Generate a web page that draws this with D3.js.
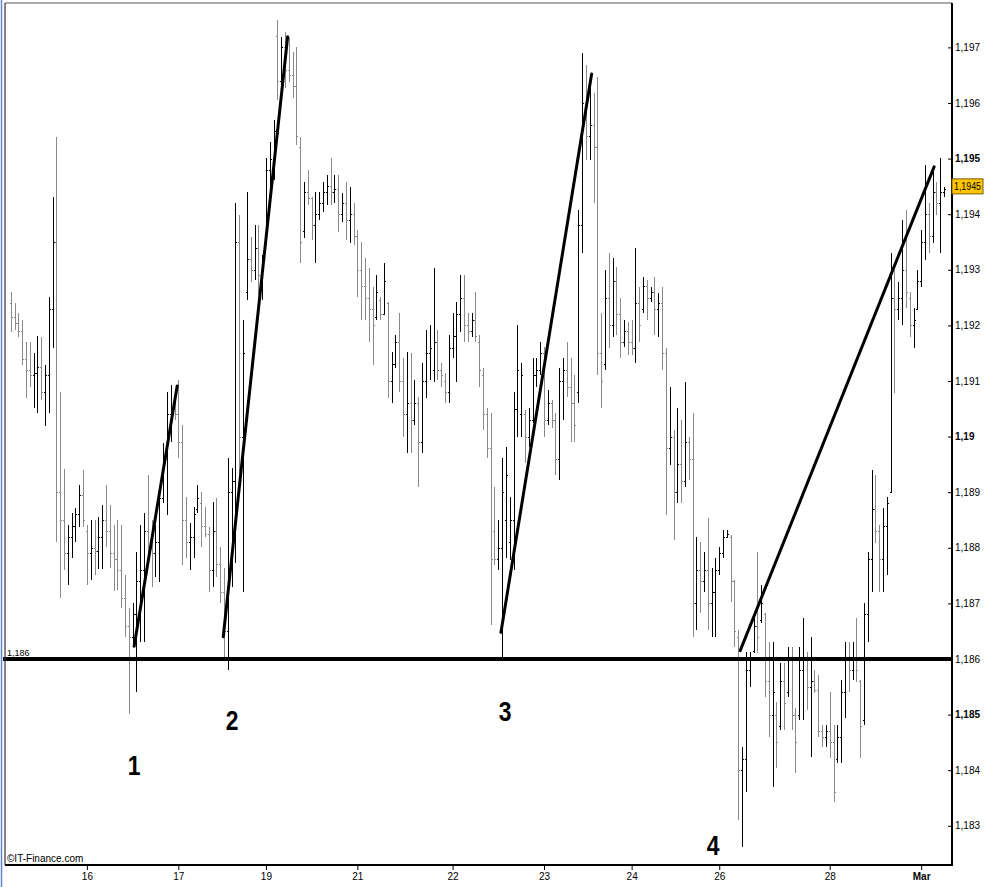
<!DOCTYPE html>
<html><head><meta charset="utf-8">
<script src="https://cdn.jsdelivr.net/npm/d3@7"></script>
<style>body{margin:0;background:#fff;overflow:hidden}</style>
</head><body>
<svg id="chart" width="986" height="887"></svg>
<script>
// ---------- DATA (EUR/USD-like hourly bars) ----------
const highs = [
1.19260,1.19240,1.19222,1.19210,1.19170,1.19170,1.19150,1.19181,1.19179,1.19129,
1.19251,1.19431,1.19539,1.19080,1.18942,1.18841,1.18863,1.18872,1.18913,1.18940,
1.18841,1.18850,1.18850,1.18855,1.18877,1.18913,1.18877,1.18841,1.18850,1.18841,
1.18751,1.18692,1.18701,1.18792,1.18841,1.18863,1.18931,1.18850,1.18841,1.18904,
1.18988,1.19080,1.19093,1.19062,1.19102,1.19021,1.18891,1.18845,1.18873,1.18913,
1.18900,1.18873,1.18837,1.18882,1.18890,1.18801,1.18764,1.18962,1.18944,1.19420,
1.19399,1.19210,1.19440,1.19359,1.19381,1.19381,1.19327,1.19501,1.19530,1.19569,
1.19749,1.19719,1.19728,1.19719,1.19692,1.19701,1.19539,1.19458,1.19479,1.19431,
1.19440,1.19440,1.19458,1.19471,1.19501,1.19471,1.19471,1.19438,1.19458,1.19449,
1.19420,1.19372,1.19350,1.19321,1.19303,1.19269,1.19291,1.19251,1.19312,1.19242,
1.19152,1.19183,1.19222,1.19141,1.19152,1.19150,1.19102,1.19071,1.19132,1.19192,
1.19201,1.19303,1.19192,1.19132,1.19114,1.19183,1.19222,1.19242,1.19291,1.19291,
1.19222,1.19222,1.19260,1.19183,1.19123,1.19051,1.19042,1.18909,1.18850,1.18962,
1.18981,1.18891,1.19080,1.19201,1.19132,1.19048,1.19051,1.19141,1.19141,1.19170,
1.19161,1.19084,1.19066,1.19042,1.19123,1.19141,1.19170,1.19141,1.19111,1.19408,
1.19690,1.19668,1.19647,1.19618,1.19647,1.19222,1.19300,1.19330,1.19321,1.19305,
1.19249,1.19210,1.19206,1.19210,1.19339,1.19269,1.19287,1.19282,1.19269,1.19287,
1.19258,1.19269,1.19159,1.19089,1.19012,1.19051,1.19030,1.19098,1.18999,1.19042,
1.18819,1.18810,1.18792,1.18854,1.18764,1.18782,1.18801,1.18832,1.18832,1.18823,
1.18742,1.18652,1.18442,1.18613,1.18613,1.18676,1.18792,1.18733,1.18683,1.18631,
1.18631,1.18523,1.18593,1.18593,1.18622,1.18622,1.18512,1.18622,1.18674,1.18613,
1.18640,1.18580,1.18571,1.18481,1.18481,1.18541,1.18481,1.18481,1.18562,1.18631,
1.18631,1.18631,1.18674,1.18562,1.18701,1.18792,1.18940,1.18931,1.18841,1.18872,
1.18891,1.19330,1.19300,1.19278,1.19390,1.19408,1.19260,1.19231,1.19300,1.19372,
1.19488,1.19420,1.19476,1.19458,1.19501,1.19449];
const lows = [
1.19188,1.19192,1.19179,1.19129,1.19069,1.19089,1.19051,1.19042,1.19066,1.19019,
1.19042,1.19159,1.18810,1.18710,1.18760,1.18733,1.18782,1.18810,1.18837,1.18837,
1.18733,1.18742,1.18751,1.18762,1.18762,1.18801,1.18764,1.18722,1.18724,1.18692,
1.18640,1.18501,1.18622,1.18541,1.18631,1.18631,1.18769,1.18729,1.18747,1.18738,
1.18881,1.18859,1.18990,1.19030,1.18962,1.18769,1.18782,1.18760,1.18782,1.18863,
1.18801,1.18819,1.18721,1.18729,1.18747,1.18701,1.18604,1.18580,1.18729,1.18773,
1.18935,1.18721,1.19246,1.19278,1.19282,1.19255,1.19246,1.19357,1.19431,1.19462,
1.19605,1.19611,1.19627,1.19638,1.19609,1.19524,1.19312,1.19357,1.19417,1.19354,
1.19312,1.19390,1.19404,1.19417,1.19417,1.19420,1.19368,1.19386,1.19354,1.19348,
1.19345,1.19251,1.19210,1.19210,1.19170,1.19129,1.19210,1.19210,1.19219,1.19069,
1.19060,1.19123,1.19080,1.18999,1.18971,1.18971,1.19021,1.18909,1.18971,1.19069,
1.19102,1.19098,1.19102,1.19089,1.19060,1.19060,1.19141,1.19098,1.19188,1.19170,
1.19170,1.19179,1.19170,1.19089,1.19012,1.18962,1.18661,1.18769,1.18760,1.18604,
1.18782,1.18778,1.18760,1.18999,1.18999,1.18953,1.18981,1.19024,1.19089,1.19111,
1.18999,1.19021,1.19015,1.18931,1.18922,1.19030,1.19071,1.18990,1.18990,1.19060,
1.19330,1.19497,1.19497,1.19420,1.19111,1.19051,1.19120,1.19159,1.19179,1.19183,
1.19141,1.19161,1.19147,1.19147,1.19132,1.19170,1.19222,1.19210,1.19242,1.19183,
1.19179,1.19120,1.18859,1.18949,1.18814,1.18881,1.18881,1.18909,1.18922,1.18640,
1.18652,1.18683,1.18721,1.18652,1.18640,1.18640,1.18751,1.18782,1.18819,1.18703,
1.18622,1.18310,1.18262,1.18361,1.18550,1.18611,1.18611,1.18665,1.18532,1.18460,
1.18370,1.18404,1.18472,1.18472,1.18532,1.18472,1.18395,1.18490,1.18490,1.18508,
1.18424,1.18539,1.18460,1.18442,1.18442,1.18422,1.18343,1.18413,1.18413,1.18494,
1.18541,1.18562,1.18559,1.18422,1.18481,1.18631,1.18721,1.18809,1.18721,1.18721,
1.18751,1.18899,1.19078,1.19210,1.19201,1.19231,1.19179,1.19159,1.19228,1.19269,
1.19318,1.19330,1.19348,1.19399,1.19330,1.19431];
const opens = [
1.19240,1.19215,1.19205,1.19190,1.19140,1.19120,1.19110,1.19115,1.19125,1.19080,
1.19110,1.19230,1.19350,1.18900,1.18850,1.18790,1.18820,1.18840,1.18860,1.18895,
1.18830,1.18790,1.18800,1.18795,1.18820,1.18850,1.18830,1.18790,1.18780,1.18760,
1.18710,1.18660,1.18640,1.18680,1.18740,1.18760,1.18830,1.18800,1.18790,1.18810,
1.18890,1.18960,1.19040,1.19050,1.19040,1.18990,1.18850,1.18810,1.18820,1.18870,
1.18880,1.18840,1.18825,1.18760,1.18830,1.18770,1.18720,1.18650,1.18900,1.18920,
1.19350,1.19000,1.19260,1.19320,1.19300,1.19340,1.19290,1.19360,1.19480,1.19500,
1.19720,1.19640,1.19700,1.19660,1.19650,1.19630,1.19520,1.19370,1.19440,1.19430,
1.19380,1.19400,1.19420,1.19440,1.19450,1.19440,1.19445,1.19400,1.19420,1.19390,
1.19400,1.19360,1.19300,1.19270,1.19250,1.19230,1.19215,1.19245,1.19220,1.19240,
1.19100,1.19130,1.19170,1.19100,1.19040,1.19060,1.19030,1.19060,1.18990,1.19100,
1.19150,1.19120,1.19170,1.19120,1.19100,1.19080,1.19160,1.19180,1.19220,1.19250,
1.19200,1.19190,1.19210,1.19170,1.19110,1.19040,1.18980,1.18830,1.18780,1.18800,
1.18850,1.18810,1.18850,1.19050,1.19040,1.19040,1.19000,1.19030,1.19110,1.19120,
1.19150,1.19030,1.19060,1.19030,1.18960,1.19100,1.19120,1.19090,1.19060,1.19080,
1.19380,1.19600,1.19540,1.19560,1.19520,1.19150,1.19130,1.19250,1.19200,1.19280,
1.19220,1.19170,1.19190,1.19170,1.19160,1.19240,1.19230,1.19270,1.19250,1.19260,
1.19230,1.19240,1.19150,1.18980,1.19000,1.18900,1.18950,1.18920,1.18990,1.18960,
1.18700,1.18760,1.18740,1.18760,1.18700,1.18720,1.18760,1.18790,1.18820,1.18820,
1.18740,1.18640,1.18400,1.18420,1.18580,1.18615,1.18660,1.18670,1.18680,1.18560,
1.18500,1.18500,1.18480,1.18560,1.18540,1.18600,1.18500,1.18500,1.18580,1.18600,
1.18550,1.18560,1.18545,1.18470,1.18460,1.18470,1.18450,1.18420,1.18460,1.18540,
1.18600,1.18580,1.18600,1.18560,1.18490,1.18680,1.18780,1.18870,1.18830,1.18780,
1.18840,1.18900,1.19250,1.19230,1.19250,1.19300,1.19250,1.19200,1.19230,1.19280,
1.19350,1.19400,1.19360,1.19440,1.19420,1.19440];
const closes = [
1.19215,1.19205,1.19190,1.19140,1.19120,1.19110,1.19115,1.19125,1.19080,1.19110,
1.19230,1.19350,1.18900,1.18850,1.18790,1.18820,1.18840,1.18860,1.18895,1.18850,
1.18790,1.18800,1.18795,1.18820,1.18850,1.18830,1.18790,1.18780,1.18760,1.18710,
1.18660,1.18640,1.18680,1.18740,1.18760,1.18830,1.18800,1.18790,1.18810,1.18890,
1.18960,1.19040,1.19050,1.19040,1.18990,1.18850,1.18810,1.18820,1.18860,1.18890,
1.18840,1.18825,1.18760,1.18830,1.18770,1.18720,1.18650,1.18900,1.18920,1.19350,
1.19000,1.19150,1.19320,1.19300,1.19340,1.19290,1.19320,1.19480,1.19500,1.19550,
1.19640,1.19700,1.19660,1.19650,1.19630,1.19540,1.19350,1.19440,1.19430,1.19380,
1.19400,1.19420,1.19440,1.19450,1.19440,1.19445,1.19400,1.19420,1.19390,1.19400,
1.19360,1.19300,1.19270,1.19250,1.19230,1.19200,1.19260,1.19220,1.19280,1.19100,
1.19130,1.19170,1.19100,1.19040,1.19060,1.19030,1.19060,1.18990,1.19100,1.19150,
1.19160,1.19170,1.19120,1.19110,1.19080,1.19160,1.19180,1.19220,1.19250,1.19200,
1.19190,1.19210,1.19180,1.19120,1.19040,1.18980,1.18780,1.18780,1.18800,1.18900,
1.18930,1.18850,1.19050,1.19120,1.19110,1.19000,1.19030,1.19110,1.19120,1.19150,
1.19030,1.19060,1.19030,1.18960,1.19100,1.19120,1.19090,1.19060,1.19020,1.19380,
1.19600,1.19540,1.19560,1.19520,1.19150,1.19100,1.19250,1.19200,1.19280,1.19220,
1.19170,1.19190,1.19170,1.19160,1.19240,1.19200,1.19270,1.19250,1.19260,1.19230,
1.19240,1.19150,1.18980,1.19000,1.18900,1.18950,1.18920,1.18990,1.18960,1.18700,
1.18760,1.18740,1.18760,1.18700,1.18720,1.18760,1.18790,1.18820,1.18825,1.18740,
1.18650,1.18400,1.18420,1.18580,1.18600,1.18660,1.18640,1.18700,1.18560,1.18500,
1.18540,1.18450,1.18560,1.18520,1.18600,1.18500,1.18450,1.18580,1.18600,1.18550,
1.18560,1.18545,1.18470,1.18460,1.18470,1.18450,1.18360,1.18460,1.18540,1.18600,
1.18580,1.18600,1.18580,1.18480,1.18680,1.18780,1.18870,1.18830,1.18780,1.18840,
1.18880,1.19250,1.19230,1.19250,1.19300,1.19260,1.19200,1.19210,1.19280,1.19350,
1.19400,1.19360,1.19440,1.19420,1.19440,1.19445];

const xTickIndex  = [20, 44, 67, 91, 116, 140, 163, 186, 215, 239];
const xTickLabels = ["16","17","19","21","22","23","24","26","28","Mar"];
const yTickValues = [1.183,1.184,1.185,1.186,1.187,1.188,1.189,1.190,1.191,1.192,1.193,1.194,1.195,1.196,1.197];
const supportLevel = 1.186;
const lastPrice = 1.1945;
// trend lines: [startIndex, startPrice, endIndex, endPrice]
const trendStartIdx   = [32.4, 55.8, 128.7, 191.5];
const trendStartPrice = [1.18623, 1.18640, 1.18648, 1.18615];
const trendEndIdx     = [43.7, 72.7, 152.5, 242.4];
const trendEndPrice   = [1.19091, 1.19719, 1.19652, 1.19485];
const waveNames  = ["1","2","3","4"];
const waveIdx    = [32.4, 58.1, 129.8, 184.4];
const wavePrice  = [1.18409, 1.18490, 1.18506, 1.18265];

// ---------- DRAW ----------
const svg = d3.select("#chart");
const frame = {left:5, right:952, top:3, bottom:865};
const x = d3.scaleLinear().domain([0, highs.length-1]).range([10.7, 944]);
const y = d3.scaleLinear().domain([1.1823, 1.1978]).range([864.7, 2.9]);
const narrow = "'Liberation Sans Narrow','Liberation Sans',Arial,sans-serif";

svg.append("rect").attr("width",986).attr("height",887).attr("fill","#fff");

svg.append("defs").append("clipPath").attr("id","clip")
  .append("rect").attr("x",frame.left+1).attr("y",frame.top+1)
  .attr("width",frame.right-frame.left-2).attr("height",frame.bottom-frame.top-2);

const g = svg.append("g").attr("clip-path","url(#clip)");

// OHLC bars
const idx = d3.range(highs.length);
const bars = g.append("g").attr("shape-rendering","crispEdges");
idx.forEach(i => {
  const cx = Math.round(x(i)) + 0.5;
  const col = closes[i] >= opens[i] ? "#000000" : "#8a8a8a";
  bars.append("line").attr("x1",cx).attr("x2",cx)
    .attr("y1",y(highs[i])).attr("y2",y(lows[i]))
    .attr("stroke",col).attr("stroke-width",1);
  const yo = Math.round(y(opens[i])) + 0.5, yc = Math.round(y(closes[i])) + 0.5;
  bars.append("line").attr("x1",cx-1.5).attr("x2",cx).attr("y1",yo).attr("y2",yo)
    .attr("stroke",col).attr("stroke-width",1);
  bars.append("line").attr("x1",cx).attr("x2",cx+1.5).attr("y1",yc).attr("y2",yc)
    .attr("stroke",col).attr("stroke-width",1);
});

// support line
svg.append("line").attr("x1",3).attr("x2",frame.right)
  .attr("y1",y(supportLevel)).attr("y2",y(supportLevel))
  .attr("stroke","#000").attr("stroke-width",4);
svg.append("text").attr("x",7).attr("y",y(supportLevel)-3)
  .attr("font-family",narrow).attr("font-size",9).attr("fill","#000")
  .text(d3.format(".3f")(supportLevel).replace(".",","));

// trend lines
g.selectAll("line.trend").data(trendStartIdx).enter().append("line")
  .attr("class","trend")
  .attr("x1",(d,i)=>x(d)).attr("y1",(d,i)=>y(trendStartPrice[i]))
  .attr("x2",(d,i)=>x(trendEndIdx[i])).attr("y2",(d,i)=>y(trendEndPrice[i]))
  .attr("stroke","#000").attr("stroke-width",3).attr("stroke-linecap","round");

// wave labels (condensed look)
svg.selectAll("text.wave").data(waveNames).enter().append("text")
  .attr("class","wave")
  .attr("transform",(d,i)=>`translate(${x(waveIdx[i])},${y(wavePrice[i])}) scale(0.85,1.05)`)
  .attr("text-anchor","middle").attr("dominant-baseline","central")
  .attr("font-family",narrow).attr("font-weight","bold").attr("font-size",27)
  .attr("fill","#000").text(d=>d);

// frame
svg.append("line").attr("x1",1.5).attr("x2",1.5).attr("y1",0).attr("y2",887)
  .attr("stroke","#5b86d6").attr("stroke-width",1.5);
svg.append("line").attr("x1",frame.left).attr("x2",frame.right).attr("y1",frame.top).attr("y2",frame.top)
  .attr("stroke","#555").attr("stroke-width",1);
svg.append("line").attr("x1",frame.left).attr("x2",frame.left).attr("y1",frame.top).attr("y2",frame.bottom)
  .attr("stroke","#333").attr("stroke-width",1.2);
svg.append("line").attr("x1",frame.left).attr("x2",frame.right+1).attr("y1",frame.bottom).attr("y2",frame.bottom)
  .attr("stroke","#000").attr("stroke-width",2);
svg.append("line").attr("x1",frame.right).attr("x2",frame.right).attr("y1",frame.top).attr("y2",frame.bottom+1)
  .attr("stroke","#000").attr("stroke-width",2);

// right axis
const fmtPrice = v => { let s = d3.format(".3f")(v).replace(/0+$/,""); return s.replace(".",","); };
const isBold = v => Math.abs(Math.round(v*1000) % 5) === 0;
const yAxis = d3.axisRight(y).tickValues(yTickValues).tickSizeInner(-4).tickSizeOuter(0)
  .tickPadding(3).tickFormat(fmtPrice);
const ya = svg.append("g").attr("transform",`translate(${frame.right},0)`).call(yAxis);
ya.select(".domain").remove();
ya.selectAll(".tick line").attr("stroke","#000").attr("x2",-4).attr("x1",1);
ya.selectAll(".tick text").attr("font-family",narrow).attr("font-size",10).attr("fill","#000")
  .attr("font-weight",d=>isBold(d)?"bold":"normal");

// last price box
const yl = y(lastPrice);
svg.append("rect").attr("x",frame.right).attr("y",yl-7.5).attr("width",31).attr("height",15)
  .attr("fill","#ffc600").attr("stroke","#7a5a00").attr("stroke-width",1);
svg.append("text").attr("x",frame.right+2).attr("y",yl).attr("dominant-baseline","central")
  .attr("font-family",narrow).attr("font-size",10).attr("fill","#000")
  .attr("textLength",27).attr("lengthAdjust","spacingAndGlyphs")
  .text(d3.format(".4f")(lastPrice).replace(".",","));

// bottom axis
const xAxis = d3.axisBottom(x).tickValues(xTickIndex).tickSizeInner(5).tickSizeOuter(0)
  .tickPadding(3).tickFormat((d,i)=>xTickLabels[i]);
const xa = svg.append("g").attr("transform",`translate(0,${frame.bottom})`).call(xAxis);
xa.select(".domain").remove();
xa.selectAll(".tick line").attr("stroke","#000");
xa.selectAll(".tick text").attr("font-family",narrow).attr("font-size",10).attr("fill","#000")
  .attr("font-weight",(d,i)=>xTickLabels[i]==="Mar"?"bold":"normal");

// watermark
svg.append("text").attr("x",7).attr("y",862).attr("font-family",narrow).attr("font-size",10)
  .attr("fill","#000").text("©IT-Finance.com");
</script>
</body></html>
